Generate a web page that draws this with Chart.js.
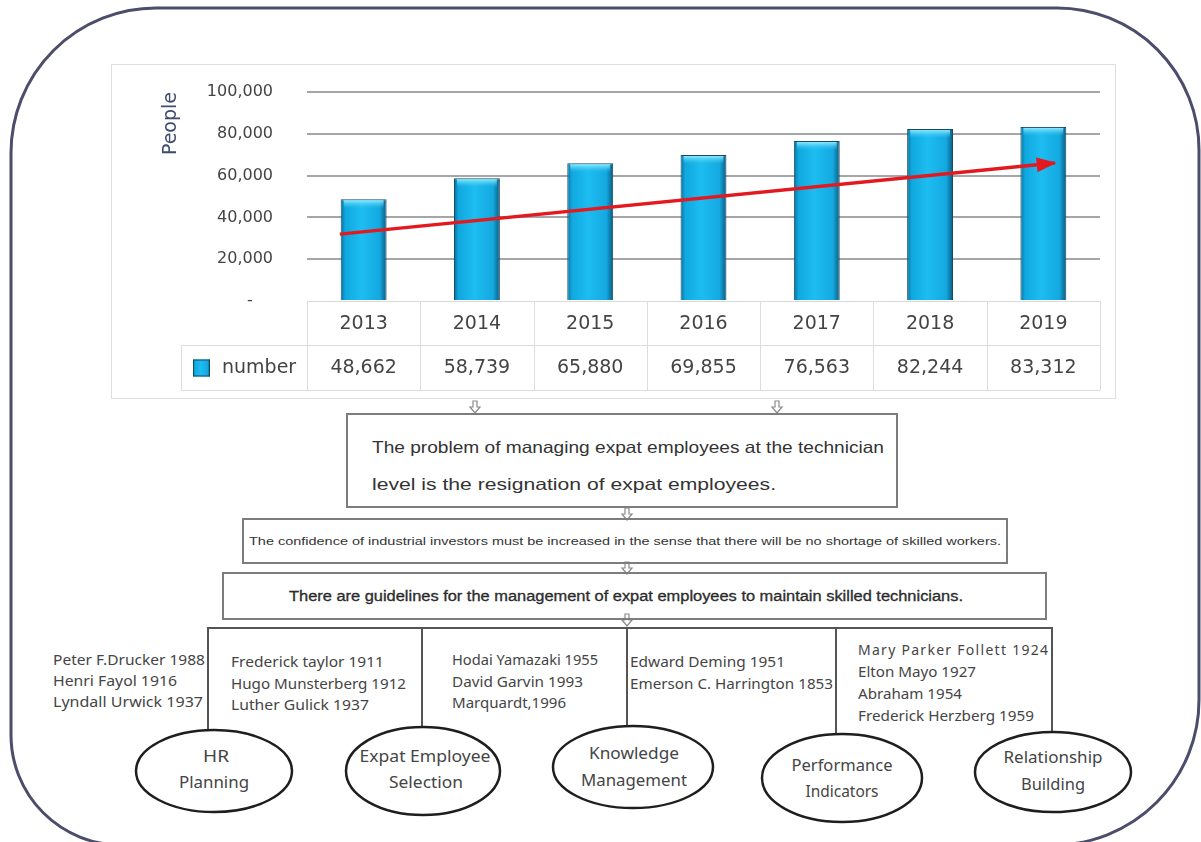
<!DOCTYPE html>
<html>
<head>
<meta charset="utf-8">
<script src="https://cdn.jsdelivr.net/npm/chart.js@4.4.1/dist/chart.umd.min.js"></script>
<style>
  html, body { margin: 0; padding: 0; background: #fff; }
  #page { position: relative; width: 1201px; height: 842px; overflow: hidden; }
  #panel {
    position: absolute; left: 111px; top: 64px; width: 1003px; height: 333px;
    border: 1px solid #dedede; background: #fff;
  }
  #diagram { position: absolute; left: 0; top: 0; }
  .note { font-family: "Noto Sans", sans-serif; font-size: 14px; fill: #454545; }
  .oval { font-family: "Noto Sans", sans-serif; font-size: 15.5px; fill: #454545; text-anchor: middle; }
  .box { font-family: "Liberation Sans", Arial, sans-serif; fill: #333; }
</style>
</head>
<body>
<div id="page">
  <svg id="diagram" width="1201" height="842">
    <!-- outer rounded frame -->
    <path d="M 156 8 L 1057 8 A 142 142 0 0 1 1199 150 L 1199 700 A 145 145 0 0 1 1054 845 L 121 845 A 110 110 0 0 1 11 735 L 11 153 A 145 145 0 0 1 156 8 Z"
          fill="none" stroke="#4b4d6b" stroke-width="3"/>

    <!-- hollow down arrows -->
    <g fill="#fff" stroke="#8a8a8a" stroke-width="1.2">
      <path d="M 473 401 h 4 v 6 h 3 l -5 6 l -5 -6 h 3 z"/>
      <path d="M 775 401 h 4 v 6 h 3 l -5 6 l -5 -6 h 3 z"/>
      <path d="M 625 508 h 4 v 6 h 3 l -5 6 l -5 -6 h 3 z"/>
      <path d="M 625 562 h 4 v 6 h 3 l -5 6 l -5 -6 h 3 z"/>
      <path d="M 625 614 h 4 v 6 h 3 l -5 6 l -5 -6 h 3 z"/>
    </g>

    <!-- text boxes -->
    <rect x="347" y="414" width="550" height="93" fill="none" stroke="#7d7d7d" stroke-width="2"/>
    <text class="box" x="372" y="453" font-size="16.5" textLength="512" lengthAdjust="spacingAndGlyphs">The problem of managing expat employees at the technician</text>
    <text class="box" x="372" y="490" font-size="16.5" textLength="404" lengthAdjust="spacingAndGlyphs">level is the resignation of expat employees.</text>

    <rect x="243" y="519" width="764" height="44" fill="none" stroke="#7d7d7d" stroke-width="2"/>
    <text class="box" x="249" y="545" font-size="11" textLength="752" lengthAdjust="spacingAndGlyphs">The confidence of industrial investors must be increased in the sense that there will be no shortage of skilled workers.</text>

    <rect x="223" y="573" width="823" height="46" fill="none" stroke="#7d7d7d" stroke-width="2"/>
    <text class="box" x="289" y="601" font-size="14" fill="#1c1c1c" stroke="#1c1c1c" stroke-width="0.3" textLength="674" lengthAdjust="spacingAndGlyphs">There are guidelines for the management of expat employees to maintain skilled technicians.</text>

    <!-- tree lines -->
    <g stroke="#555" stroke-width="2" fill="none">
      <line x1="208" y1="628" x2="1052" y2="628"/>
      <line x1="208" y1="627" x2="208" y2="731"/>
      <line x1="422" y1="627" x2="422" y2="728"/>
      <line x1="627" y1="627" x2="627" y2="727"/>
      <line x1="836" y1="627" x2="836" y2="735"/>
      <line x1="1052" y1="627" x2="1052" y2="733"/>
    </g>

    <!-- theorist lists -->
    <text class="note" x="53" y="665" textLength="152" lengthAdjust="spacingAndGlyphs">Peter F.Drucker 1988</text>
    <text class="note" x="53" y="686" textLength="124" lengthAdjust="spacingAndGlyphs">Henri Fayol 1916</text>
    <text class="note" x="53" y="707" textLength="150" lengthAdjust="spacingAndGlyphs">Lyndall Urwick 1937</text>

    <text class="note" x="231" y="667" textLength="153" lengthAdjust="spacingAndGlyphs">Frederick taylor 1911</text>
    <text class="note" x="231" y="689" textLength="175" lengthAdjust="spacingAndGlyphs">Hugo Munsterberg 1912</text>
    <text class="note" x="231" y="710" textLength="138" lengthAdjust="spacingAndGlyphs">Luther Gulick 1937</text>

    <text class="note" x="452" y="665" textLength="146" lengthAdjust="spacingAndGlyphs">Hodai Yamazaki 1955</text>
    <text class="note" x="452" y="687" textLength="131" lengthAdjust="spacingAndGlyphs">David Garvin 1993</text>
    <text class="note" x="452" y="708" textLength="114" lengthAdjust="spacingAndGlyphs">Marquardt,1996</text>

    <text class="note" x="630" y="667" textLength="155" lengthAdjust="spacingAndGlyphs">Edward Deming 1951</text>
    <text class="note" x="630" y="689" textLength="203" lengthAdjust="spacingAndGlyphs">Emerson C. Harrington 1853</text>

    <text class="note" x="858" y="655" textLength="190" lengthAdjust="spacing">Mary Parker Follett 1924</text>
    <text class="note" x="858" y="677" textLength="118" lengthAdjust="spacingAndGlyphs">Elton Mayo 1927</text>
    <text class="note" x="858" y="699" textLength="104" lengthAdjust="spacingAndGlyphs">Abraham 1954</text>
    <text class="note" x="858" y="721" textLength="176" lengthAdjust="spacingAndGlyphs">Frederick Herzberg 1959</text>

    <!-- ovals -->
    <g fill="#fff" stroke="#1e1e1e" stroke-width="2.5">
      <ellipse cx="214" cy="771" rx="78" ry="41"/>
      <ellipse cx="423" cy="771" rx="77" ry="44"/>
      <ellipse cx="633" cy="767" rx="80" ry="41"/>
      <ellipse cx="842" cy="778" rx="80" ry="44"/>
      <ellipse cx="1053" cy="772" rx="78" ry="40"/>
    </g>
    <text class="oval" x="216" y="762" textLength="26" lengthAdjust="spacingAndGlyphs">HR</text>
    <text class="oval" x="214" y="788" textLength="70" lengthAdjust="spacingAndGlyphs">Planning</text>
    <text class="oval" x="425" y="762" textLength="131" lengthAdjust="spacingAndGlyphs">Expat Employee</text>
    <text class="oval" x="426" y="788" textLength="74" lengthAdjust="spacingAndGlyphs">Selection</text>
    <text class="oval" x="634" y="759" textLength="90" lengthAdjust="spacingAndGlyphs">Knowledge</text>
    <text class="oval" x="634" y="786" textLength="106" lengthAdjust="spacingAndGlyphs">Management</text>
    <text class="oval" x="842" y="771" textLength="101" lengthAdjust="spacingAndGlyphs">Performance</text>
    <text class="oval" x="842" y="797" textLength="73" lengthAdjust="spacingAndGlyphs">Indicators</text>
    <text class="oval" x="1053" y="763" textLength="99" lengthAdjust="spacingAndGlyphs">Relationship</text>
    <text class="oval" x="1053" y="790" textLength="64" lengthAdjust="spacingAndGlyphs">Building</text>
  </svg>

  <div id="panel"><canvas id="peopleChart"></canvas></div>
</div>

<script>
// chart data
const years = ['2013', '2014', '2015', '2016', '2017', '2018', '2019'];
const numbers = [48662, 58739, 65880, 69855, 76563, 82244, 83312];
const seriesName = 'number';
const yTicks = [0, 20000, 40000, 60000, 80000, 100000];
// red trend arrow, start and end (x in category units)
const trendX = [-0.21, 6.1];
const trendY = [32000, 66000];

const BAR_PCT = 0.405;
const FONT = '"DejaVu Sans", Verdana, sans-serif';
const TEXT_GREY = '#444444';

function barGradient(ctx2d, x0, x1) {
    const g = ctx2d.createLinearGradient(x0, 0, x1, 0);
    g.addColorStop(0, '#0a6e9c');
    g.addColorStop(0.1, '#10a8de');
    g.addColorStop(0.45, '#1dbdf1');
    g.addColorStop(0.85, '#14a9e0');
    g.addColorStop(1, '#0b5a80');
    return g;
}

function barFill(context) {
    const chart = context.chart;
    const xs = chart.scales.x;
    if (!chart.chartArea || context.dataIndex === undefined || !xs) return '#19b4ea';
    const cx = xs.getPixelForValue(context.dataIndex);
    const half = xs.width / years.length * BAR_PCT / 2;
    return barGradient(chart.ctx, cx - half, cx + half);
}

// light cap on top of each bar
const barCaps = {
    id: 'barCaps',
    afterDatasetsDraw(chart) {
        const meta = chart.getDatasetMeta(0);
        const ctx = chart.ctx;
        ctx.save();
        meta.data.forEach(bar => {
            const left = bar.x - bar.width / 2 + 3;
            const w = bar.width - 6;
            const g = ctx.createLinearGradient(0, bar.y + 1, 0, bar.y + 9);
            g.addColorStop(0, 'rgba(150,235,255,0.95)');
            g.addColorStop(1, 'rgba(60,200,245,0)');
            ctx.fillStyle = g;
            ctx.fillRect(left, bar.y + 1, w, 8);
        });
        ctx.restore();
    }
};

// arrow head at the end of the trend line
const trendArrow = {
    id: 'trendArrow',
    afterDatasetsDraw(chart) {
        const pts = chart.getDatasetMeta(1).data;
        if (pts.length < 2) return;
        const a = pts[pts.length - 2], b = pts[pts.length - 1];
        const ang = Math.atan2(b.y - a.y, b.x - a.x);
        const ctx = chart.ctx;
        ctx.save();
        ctx.translate(b.x, b.y);
        ctx.rotate(ang);
        ctx.fillStyle = '#e3191f';
        ctx.beginPath();
        ctx.moveTo(2, 0);
        ctx.lineTo(-18, -7.5);
        ctx.lineTo(-18, 7.5);
        ctx.closePath();
        ctx.fill();
        ctx.restore();
    }
};

// data table under the plot, aligned to the category scale
const dataTable = {
    id: 'dataTable',
    afterDraw(chart) {
        const ctx = chart.ctx;
        const area = chart.chartArea;
        const xs = chart.scales.x;
        const step = xs.width / years.length;
        const top = area.bottom;
        const mid = top + 44;
        const bottom = mid + 45;
        const legendLeft = 69;

        ctx.save();
        ctx.strokeStyle = '#dcdcdc';
        ctx.lineWidth = 1;
        ctx.beginPath();
        ctx.moveTo(area.left, top + 0.5); ctx.lineTo(area.right, top + 0.5);
        ctx.moveTo(legendLeft, mid + 0.5); ctx.lineTo(area.right, mid + 0.5);
        ctx.moveTo(legendLeft, bottom + 0.5); ctx.lineTo(area.right, bottom + 0.5);
        ctx.moveTo(legendLeft + 0.5, mid); ctx.lineTo(legendLeft + 0.5, bottom);
        for (let i = 0; i <= years.length; i++) {
            const x = Math.round(area.left + i * step) + 0.5;
            ctx.moveTo(x, top); ctx.lineTo(x, bottom);
        }
        ctx.stroke();

        ctx.fillStyle = TEXT_GREY;
        ctx.font = '19px ' + FONT;
        ctx.textAlign = 'center';
        ctx.textBaseline = 'middle';
        years.forEach((y, i) => {
            const cx = xs.getPixelForValue(i);
            ctx.fillText(y, cx, (top + mid) / 2 + 1);
            ctx.fillText(numbers[i].toLocaleString('en-US'), cx, (mid + bottom) / 2 + 1);
        });

        // legend key
        const kx = 81, ky = (mid + bottom) / 2 - 8;
        ctx.fillStyle = barGradient(ctx, kx, kx + 17);
        ctx.fillRect(kx, ky, 17, 17);
        ctx.strokeStyle = '#0d4d6c';
        ctx.strokeRect(kx + 0.5, ky + 0.5, 16, 16);
        ctx.fillStyle = TEXT_GREY;
        ctx.textAlign = 'left';
        ctx.fillText(seriesName, 110, (mid + bottom) / 2 + 1);
        ctx.restore();
    }
};

const chart = new Chart(document.getElementById('peopleChart'), {
    data: {
        labels: years,
        datasets: [{
            type: 'bar',
            label: seriesName,
            data: numbers,
            backgroundColor: barFill,
            borderColor: '#174b64',
            borderWidth: 1,
            grouped: false,
            categoryPercentage: 1,
            barPercentage: BAR_PCT,
            order: 1
        }, {
            type: 'line',
            label: 'trend',
            xAxisID: 'x2',
            data: trendX.map((x, i) => ({ x: x, y: trendY[i] })),
            borderColor: '#e3191f',
            borderWidth: 3.5,
            pointRadius: 0,
            tension: 0,
            order: 0
        }]
    },
    options: {
        responsive: true,
        maintainAspectRatio: false,
        animation: false,
        layout: { padding: { top: 27, right: 15, bottom: 97, left: 0 } },
        plugins: {
            legend: { display: false },
            tooltip: { enabled: false }
        },
        scales: {
            x: { display: false },
            x2: { type: 'linear', display: false, min: -0.5, max: 6.5 },
            y: {
                min: 0,
                max: 100000,
                afterBuildTicks: scale => { scale.ticks = yTicks.map(v => ({ value: v })); },
                afterFit: scale => { scale.width = 195; },
                border: { display: false },
                grid: {
                    drawTicks: true,
                    tickLength: 32,
                    tickColor: 'rgba(0,0,0,0)',
                    lineWidth: 2,
                    color: c => (c.tick && c.tick.value === 0) ? 'rgba(0,0,0,0)' : '#a3a7a9'
                },
                ticks: {
                    padding: 2,
                    color: TEXT_GREY,
                    font: { family: FONT, size: 16 },
                    callback: v => v === 0 ? '-    ' : v.toLocaleString('en-US')
                },
                title: {
                    display: true,
                    text: 'People',
                    align: 'end',
                    color: '#3f4b6e',
                    font: { family: FONT, size: 19 },
                    padding: { top: 48, bottom: 0 }
                }
            }
        }
    },
    plugins: [barCaps, trendArrow, dataTable]
});
</script>
</body>
</html>
